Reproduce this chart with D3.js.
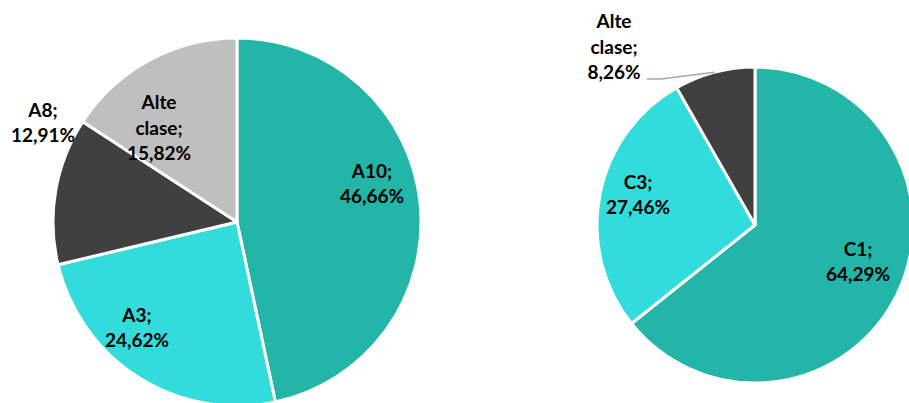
<!DOCTYPE html>
<html>
<head>
<meta charset="utf-8">
<script src="https://cdn.jsdelivr.net/npm/d3@7"></script>
<style>
  html, body { margin: 0; padding: 0; background: #fff; }
  svg { display: block; }
  text { font-family: Lato, "Open Sans", sans-serif; font-weight: 700; fill: #000; }
</style>
</head>
<body>
<svg id="chart" width="909" height="403"></svg>
<script>
// Left pie: share by class (A)
const leftCategories = ["A10", "A3", "A8", "Alte clase"];
const leftValues = [46.66, 24.62, 12.91, 15.82];

// Right pie: share by class (C)
const rightCategories = ["C1", "C3", "Alte clase"];
const rightValues = [64.29, 27.46, 8.26];

const svg = d3.select("#chart");
const fmt = v => d3.format(".2f")(v).replace(".", ",") + "%";

// Label layout: offsets from each pie's centre, and wrapping of the label text
const pies = [
  {
    cats: leftCategories, vals: leftValues, cx: 237, cy: 222, r: 184,
    colors: ["#23B5A8", "#33DCDC", "#404040", "#BFBFBF"],
    labels: [
      { dx: 135, dy: -38, lines: d => [d.cat + ";", fmt(d.val)] },
      { dx: -100, dy: 106, lines: d => [d.cat + ";", fmt(d.val)] },
      { dx: -194, dy: -99, lines: d => [d.cat + ";", fmt(d.val)] },
      { dx: -78, dy: -94, lines: d => ["Alte", "clase;", fmt(d.val)] }
    ]
  },
  {
    cats: rightCategories, vals: rightValues, cx: 755, cy: 225, r: 158,
    colors: ["#23B5A8", "#33DCDC", "#404040"],
    labels: [
      { dx: 103, dy: 37, lines: d => [d.cat + ";", fmt(d.val)] },
      { dx: -117, dy: -30, lines: d => [d.cat + ";", fmt(d.val)] },
      { dx: -141, dy: -178, lines: d => ["Alte", "clase;", fmt(d.val)], leader: true }
    ]
  }
];

const lineH = 25.5;

pies.forEach(p => {
  const data = p.cats.map((c, i) => ({ cat: c, val: p.vals[i] }));
  const pie = d3.pie().value(d => d.val).sort(null);
  const arcs = pie(data);
  const arc = d3.arc().innerRadius(0).outerRadius(p.r);
  const color = d3.scaleOrdinal().domain(p.cats).range(p.colors);

  const g = svg.append("g").attr("transform", `translate(${p.cx},${p.cy})`);

  g.selectAll("path.slice")
    .data(arcs)
    .join("path")
    .attr("class", "slice")
    .attr("d", arc)
    .attr("fill", d => color(d.data.cat))
    .attr("stroke", "#fff")
    .attr("stroke-width", 3)
    .attr("stroke-linejoin", "round");

  arcs.forEach((a, i) => {
    const L = p.labels[i];
    const lines = L.lines(a.data);
    if (L.leader) {
      // leader line from the slice's outer edge to its label
      const mid = (a.startAngle + a.endAngle) / 2;
      const ex = p.r * Math.sin(mid), ey = -p.r * Math.cos(mid);
      const tx = L.dx + 33, ty = L.dy + 32;
      g.append("polyline")
        .attr("points", `${ex},${ey} ${tx + 14},${ty} ${tx},${ty}`)
        .attr("fill", "none")
        .attr("stroke", "#A6A6A6")
        .attr("stroke-width", 1.5);
    }
    const t = g.append("text")
      .attr("text-anchor", "middle")
      .attr("font-size", 19);
    const y0 = L.dy - (lines.length - 1) * lineH / 2;
    lines.forEach((s, k) => {
      t.append("tspan")
        .attr("x", L.dx)
        .attr("y", y0 + k * lineH)
        .attr("dy", "0.35em")
        .text(s);
    });
  });
});
</script>
</body>
</html>
